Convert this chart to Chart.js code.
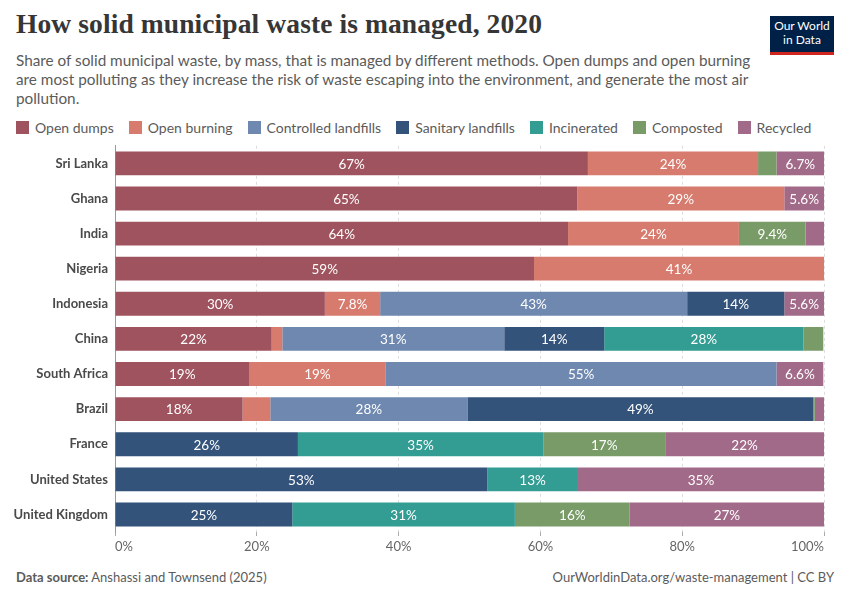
<!DOCTYPE html>
<html>
<head>
<meta charset="utf-8">
<script src="https://cdn.jsdelivr.net/npm/chart.js@4"></script>
<style>
  body { margin: 0; width: 850px; height: 600px; background: #fff; font-family: Lato, "Noto Sans", sans-serif; position: relative; overflow: hidden; }
  #title { position: absolute; left: 16px; top: 8px; font-family: "Liberation Serif", serif; font-weight: bold; font-size: 27.5px; color: #363636; letter-spacing: 0.1px; }
  #subtitle { position: absolute; left: 16px; top: 51px; width: 752px; font-size: 15.3px; line-height: 19px; color: #5b5b5b; }
  #logo { position: absolute; left: 770px; top: 16px; width: 64px; height: 33px; background: #002147; border-bottom: 3px solid #ce261e; color: #fff; font-size: 12px; line-height: 14px; text-align: center; padding-top: 3px; box-sizing: content-box; }
  #legend { position: absolute; left: 16px; top: 119px; display: flex; gap: 15px; font-size: 14px; color: #5b5b5b; }
  #legend span.item { display: flex; align-items: center; }
  #legend i { display: inline-block; width: 13px; height: 13px; margin-right: 6px; }
  #chartbox { position: absolute; left: 0; top: 131px; width: 850px; height: 434px; }
  #footer-l { position: absolute; left: 16px; top: 569px; font-size: 13px; color: #5b5b5b; }
  #footer-r { position: absolute; right: 16px; top: 569px; font-size: 13px; color: #5b5b5b; }
</style>
</head>
<body>
<div id="title">How solid municipal waste is managed, 2020</div>
<div id="subtitle">Share of solid municipal waste, by mass, that is managed by different methods. Open dumps and open burning are most polluting as they increase the risk of waste escaping into the environment, and generate the most air pollution.</div>
<div id="logo">Our World<br>in Data</div>
<div id="legend"></div>
<div id="chartbox"><canvas id="chart"></canvas></div>
<div id="footer-l"><b>Data source:</b> Anshassi and Townsend (2025)</div>
<div id="footer-r">OurWorldinData.org/waste-management | CC BY</div>

<script>
const countries = ['Sri Lanka', 'Ghana', 'India', 'Nigeria', 'Indonesia', 'China', 'South Africa', 'Brazil', 'France', 'United States', 'United Kingdom'];

const openDumps    = [66.7, 65.2, 63.9, 59.1, 29.6, 22.1, 18.9, 18.0, 0, 0, 0];
const openBurning  = [24.0, 29.2, 24.1, 40.9, 7.8, 1.5, 19.3, 3.9, 0, 0, 0];
const controlled   = [0, 0, 0, 0, 43.3, 31.3, 55.1, 27.8, 0, 0, 0];
const sanitary     = [0, 0, 0, 0, 13.7, 14.1, 0, 48.8, 25.8, 52.5, 25.0];
const incinerated  = [0, 0, 0, 0, 0, 28.1, 0, 0, 34.6, 12.8, 31.4];
const composted    = [2.6, 0, 9.4, 0, 0, 2.8, 0, 0.2, 17.2, 0, 16.2];
const recycled     = [6.7, 5.6, 2.6, 0, 5.6, 0, 6.6, 1.3, 22.4, 34.7, 27.4];

const xTicks = [0, 20, 40, 60, 80, 100];

const series = [
  { label: 'Open dumps', data: openDumps, color: '#9f535e' },
  { label: 'Open burning', data: openBurning, color: '#d67b6d' },
  { label: 'Controlled landfills', data: controlled, color: '#6e88b0' },
  { label: 'Sanitary landfills', data: sanitary, color: '#33537b' },
  { label: 'Incinerated', data: incinerated, color: '#339d94' },
  { label: 'Composted', data: composted, color: '#789b68' },
  { label: 'Recycled', data: recycled, color: '#a26a89' },
];

// legend
const legend = document.getElementById('legend');
series.forEach(s => {
  const el = document.createElement('span');
  el.className = 'item';
  el.innerHTML = '<i style="background:' + s.color + '"></i>' + s.label;
  legend.appendChild(el);
});

function fmt(v) {
  return v >= 9.95 ? Math.round(v) + '%' : v.toFixed(1) + '%';
}

// white labels in the segments + custom x tick labels
const labelPlugin = {
  id: 'segLabels',
  afterDatasetsDraw(chart) {
    const ctx = chart.ctx;
    ctx.save();
    ctx.font = '13.5px Lato, sans-serif';
    ctx.fillStyle = '#fff';
    ctx.textAlign = 'center';
    ctx.textBaseline = 'middle';
    chart.data.datasets.forEach((ds, i) => {
      chart.getDatasetMeta(i).data.forEach((bar, j) => {
        const v = ds.data[j];
        if (v < 5) return;
        const x = (bar.x + bar.base) / 2;
        ctx.fillText(fmt(v), x, bar.y + 1);
      });
    });
    // x axis labels
    const xs = chart.scales.x;
    ctx.fillStyle = '#666';
    ctx.font = '13px Lato, sans-serif';
    ctx.textBaseline = 'top';
    xTicks.forEach((t, k) => {
      const px = xs.getPixelForValue(t);
      ctx.textAlign = k === 0 ? 'left' : (k === xTicks.length - 1 ? 'right' : 'center');
      ctx.fillText(t + '%', px, chart.chartArea.bottom + 8);
    });
    ctx.restore();
  }
};

new Chart(document.getElementById('chart'), {
  type: 'bar',
  data: {
    labels: countries,
    datasets: series.map(s => ({
      label: s.label,
      data: s.data,
      backgroundColor: s.color,
      borderWidth: 0,
      barPercentage: 0.68,
      categoryPercentage: 1,
    })),
  },
  options: {
    indexAxis: 'y',
    responsive: true,
    maintainAspectRatio: false,
    animation: false,
    layout: { padding: { left: 0, right: 26, top: 0, bottom: 0 } },
    plugins: { legend: { display: false }, tooltip: { enabled: false } },
    scales: {
      x: {
        stacked: true,
        min: 0,
        max: 100,
        afterBuildTicks: (scale) => { scale.ticks = xTicks.map(v => ({ value: v })); },
        afterFit: (scale) => { scale.height = 33; },
        ticks: { display: false },
        grid: {
          color: (c) => c.tick && c.tick.value === 0 ? 'rgba(0,0,0,0)' : '#dddddd',
          lineWidth: 1,
          drawTicks: true,
          tickLength: 4,
          tickColor: '#aaa',
        },
        border: { display: false, dash: [3, 3] },
      },
      y: {
        stacked: true,
        afterFit: (scale) => { scale.width = 115; },
        ticks: {
          color: '#4a4a4a',
          font: { family: 'Lato', size: 13, weight: 'bold' },
          padding: 7,
        },
        grid: { display: false, drawTicks: false },
        border: { display: true, color: '#999', width: 1 },
      },
    },
  },
  plugins: [labelPlugin],
});
</script>
</body>
</html>
